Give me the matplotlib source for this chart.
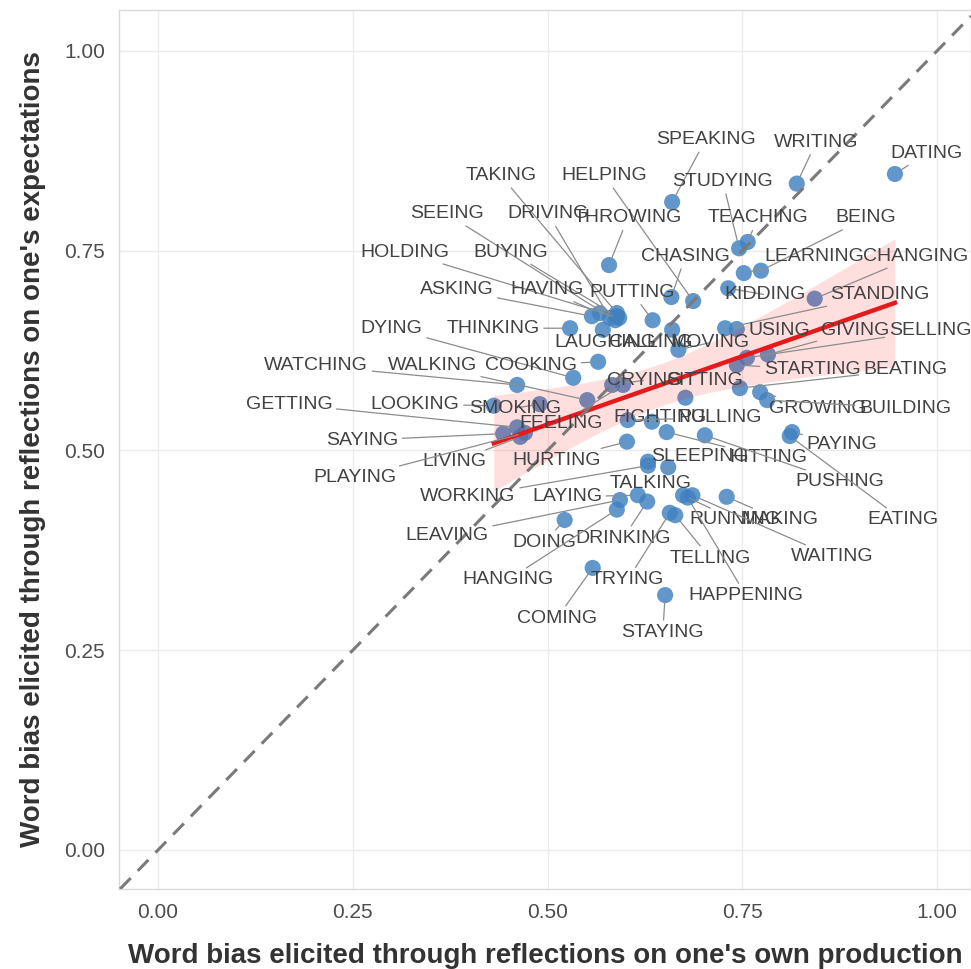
import numpy as np
import matplotlib
matplotlib.use("Agg")
import matplotlib.pyplot as plt

plt.rcParams['font.family'] = ['Liberation Sans', 'DejaVu Sans']

# word, bias from own production (x), bias from expectations (y)
words = [
    "DATING", "WRITING", "SPEAKING", "STUDYING", "TEACHING", "BEING", "LEARNING", "CHANGING",
    "TAKING", "HELPING", "SEEING", "DRIVING", "THROWING", "HOLDING", "BUYING", "CHASING",
    "ASKING", "HAVING", "PUTTING", "KIDDING", "STANDING", "DYING", "THINKING", "LAUGHING",
    "CALLING", "MOVING", "USING", "GIVING", "SELLING", "WATCHING", "WALKING", "COOKING",
    "CRYING", "SITTING", "STARTING", "BEATING", "GETTING", "LOOKING", "SMOKING", "GROWING",
    "BUILDING", "FEELING", "FIGHTING", "PULLING", "SAYING", "PAYING", "LIVING", "HURTING",
    "SLEEPING", "HITTING", "PLAYING", "PUSHING", "TALKING", "WORKING", "LAYING", "RUNNING",
    "MAKING", "EATING", "LEAVING", "DOING", "DRINKING", "TELLING", "WAITING", "HANGING",
    "TRYING", "HAPPENING", "COMING", "STAYING",
]
own_bias = [
    0.946, 0.820, 0.660, 0.746, 0.757, 0.774, 0.752, 0.843,
    0.589, 0.687, 0.587, 0.580, 0.579, 0.592, 0.589, 0.659,
    0.557, 0.567, 0.635, 0.732, 0.728, 0.533, 0.529, 0.571,
    0.660, 0.668, 0.743, 0.783, 0.756, 0.461, 0.551, 0.565,
    0.583, 0.677, 0.743, 0.747, 0.461, 0.431, 0.490, 0.773,
    0.782, 0.597, 0.634, 0.603, 0.443, 0.814, 0.465, 0.602,
    0.629, 0.653, 0.471, 0.702, 0.655, 0.629, 0.616, 0.674,
    0.730, 0.811, 0.593, 0.522, 0.628, 0.664, 0.686, 0.589,
    0.657, 0.680, 0.558, 0.651,
]
expect_bias = [
    0.846, 0.834, 0.811, 0.753, 0.761, 0.725, 0.722, 0.690,
    0.672, 0.687, 0.663, 0.666, 0.732, 0.666, 0.668, 0.692,
    0.668, 0.672, 0.663, 0.703, 0.653, 0.591, 0.653, 0.651,
    0.651, 0.626, 0.652, 0.620, 0.616, 0.582, 0.563, 0.611,
    0.582, 0.566, 0.607, 0.578, 0.529, 0.556, 0.558, 0.573,
    0.563, 0.582, 0.536, 0.538, 0.521, 0.523, 0.517, 0.511,
    0.486, 0.523, 0.522, 0.519, 0.479, 0.481, 0.444, 0.444,
    0.442, 0.518, 0.438, 0.413, 0.436, 0.419, 0.444, 0.426,
    0.422, 0.441, 0.353, 0.319,
]
# repelled label positions (data units)
label_x = [
    0.987, 0.845, 0.703, 0.725, 0.770, 0.909, 0.843, 0.972,
    0.440, 0.573, 0.371, 0.501, 0.603, 0.317, 0.453, 0.677,
    0.383, 0.499, 0.608, 0.779, 0.927, 0.300, 0.430, 0.574,
    0.632, 0.709, 0.798, 0.895, 0.991, 0.203, 0.352, 0.479,
    0.625, 0.702, 0.840, 0.959, 0.168, 0.330, 0.458, 0.847,
    0.959, 0.517, 0.644, 0.721, 0.262, 0.878, 0.381, 0.512,
    0.696, 0.783, 0.253, 0.875, 0.632, 0.398, 0.525, 0.741,
    0.798, 0.956, 0.371, 0.496, 0.597, 0.709, 0.866, 0.449,
    0.603, 0.755, 0.512, 0.648,
]
label_y = [
    0.872, 0.886, 0.889, 0.837, 0.791, 0.791, 0.743, 0.743,
    0.844, 0.844, 0.796, 0.796, 0.791, 0.748, 0.748, 0.743,
    0.701, 0.701, 0.698, 0.695, 0.695, 0.653, 0.653, 0.635,
    0.635, 0.635, 0.650, 0.650, 0.650, 0.606, 0.606, 0.606,
    0.588, 0.588, 0.601, 0.601, 0.558, 0.558, 0.553, 0.553,
    0.553, 0.534, 0.541, 0.541, 0.513, 0.508, 0.486, 0.488,
    0.492, 0.491, 0.466, 0.461, 0.459, 0.442, 0.442, 0.413,
    0.413, 0.413, 0.394, 0.385, 0.390, 0.365, 0.367, 0.338,
    0.338, 0.318, 0.290, 0.272,
]

x = np.array(own_bias)
y = np.array(expect_bias)

fig = plt.figure(figsize=(9.71, 9.69), dpi=100)
ax = fig.add_axes([0.1226, 0.0826, 0.8774, 0.9071])

ax.scatter(x, y, s=135, color='#4080c0', alpha=0.82, edgecolors='none', zorder=2)

# linear fit with 95% confidence band
n = len(x)
slope, intercept = np.polyfit(x, y, 1)
xs = np.linspace(x.min(), x.max(), 100)
fit = intercept + slope * xs
resid = y - (intercept + slope * x)
s_err = np.sqrt(np.sum(resid ** 2) / (n - 2))
sxx = np.sum((x - x.mean()) ** 2)
se = s_err * np.sqrt(1 / n + (xs - x.mean()) ** 2 / sxx)
t_crit = 1.997
ax.fill_between(xs, fit - t_crit * se, fit + t_crit * se, color='red', alpha=0.13,
                linewidth=0, zorder=3)
ax.plot(xs, fit, color='#e41a1c', lw=3.2, zorder=4)

ax.axline((0, 0), slope=1, color='#7a7a7a', lw=2.2, ls=(0, (5, 3.3)), zorder=5)

for w, px, py, lx, ly in zip(words, x, y, label_x, label_y):
    ax.annotate(w, xy=(px, py), xytext=(lx, ly), ha='center', va='center',
                fontsize=14, color='#424242', zorder=7,
                arrowprops=dict(arrowstyle='-', color='#8c8c8c', lw=0.9,
                                shrinkA=1, shrinkB=5))

ax.set_xlim(-0.0501, 1.0437)
ax.set_ylim(-0.0488, 1.0513)
ticks = [0.00, 0.25, 0.50, 0.75, 1.00]
tick_labels = ["0.00", "0.25", "0.50", "0.75", "1.00"]
ax.set_xticks(ticks)
ax.set_xticklabels(tick_labels)
ax.set_yticks(ticks)
ax.set_yticklabels(tick_labels)
ax.tick_params(length=0, labelsize=15, labelcolor='#4d4d4d', pad=10)
ax.grid(True, color='#ebebeb', lw=1.0, zorder=0)
ax.set_axisbelow(True)
for sp in ax.spines.values():
    sp.set_color('#d9d9d9')
    sp.set_linewidth(1.0)

ax.set_xlabel("Word bias elicited through reflections on one's own production",
              fontsize=20, fontweight='bold', color='#333333', labelpad=15)
ax.set_ylabel("Word bias elicited through reflections on one's expectations",
              fontsize=20, fontweight='bold', color='#333333', labelpad=13)

fig.savefig("out.png", dpi=100)
